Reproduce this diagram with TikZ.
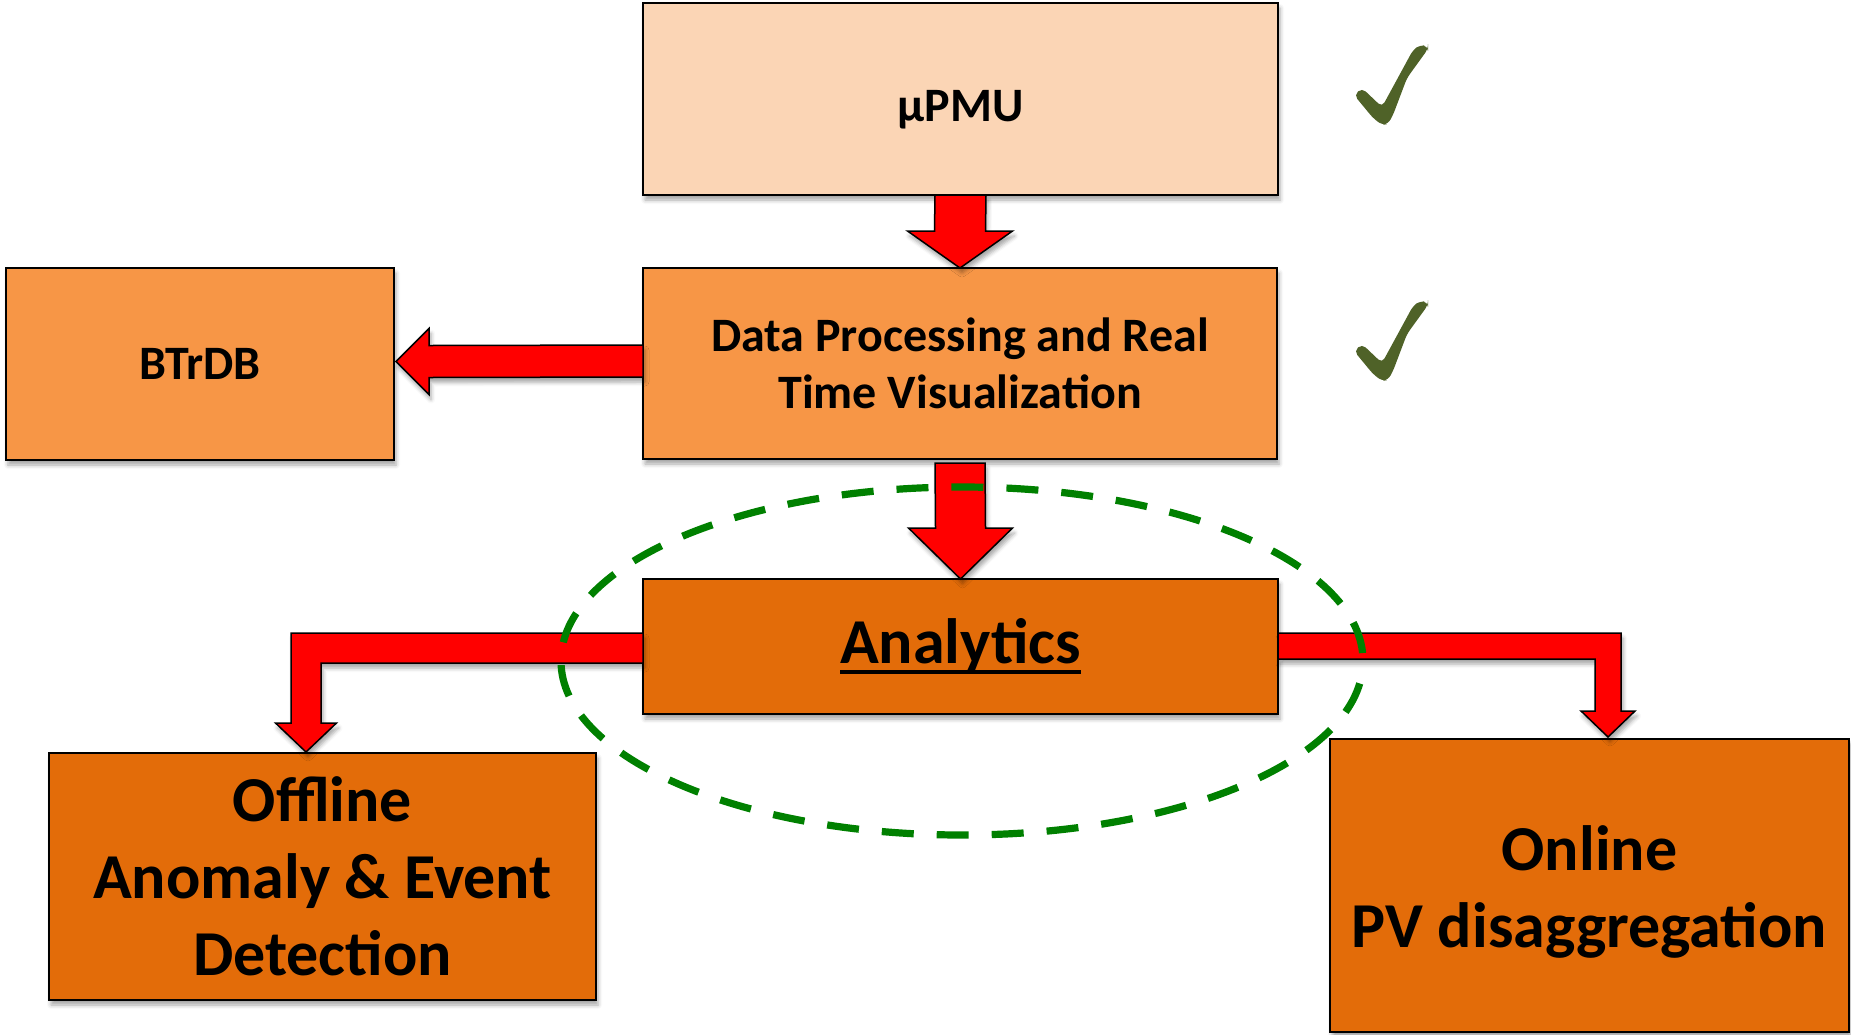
\documentclass[tikz,border=0pt]{standalone}
\usepackage{fontspec}
\setmainfont{Carlito}
\usetikzlibrary{calc,shadows.blur}

\definecolor{peach}{HTML}{FBD5B5}
\definecolor{lightorange}{HTML}{F79646}
\definecolor{darkorange}{HTML}{E36C09}
\definecolor{ringgreen}{HTML}{008000}
\definecolor{tickgreen}{HTML}{4F6228}

% heavy underline that runs through descenders
\newlength\ulwidth
\newcommand{\heavyul}[1]{\settowidth{\ulwidth}{#1}\rlap{\rule[-0.17em]{\ulwidth}{0.065em}}#1}

\tikzset{
  tickmark/.pic={
    \fill[tickgreen, rounded corners=2.5pt]
      (-31,-30) -- (-23,-37) -- (-3,-18) -- (28,-75) -- (35,-80) -- (43,-79)
      -- (43,-76) -- (22,-47) -- (8,-10) -- (3,-1) -- (-3,0) -- (-12,-7) -- cycle;
  }
}

\begin{document}
\begin{tikzpicture}[x=0.5pt,y=-0.5pt,
  softshadow/.style={blur shadow={shadow xshift=1pt, shadow yshift=-2.5pt,
      shadow blur radius=2pt, shadow opacity=35}},
  box/.style={draw=black, line width=1pt, inner sep=0pt, outer sep=0pt,
      align=center, softshadow,
      font=\bfseries\fontsize{24pt}{28.5pt}\selectfont},
  bigtext/.style={font=\bfseries\fontsize{32pt}{38.5pt}\selectfont},
  blockarrow/.style={fill=red, draw=black, line width=0.75pt,
      line join=miter, softshadow},
  ring/.style={draw=ringgreen, line width=3.6pt,
      dash pattern=on 16pt off 11.5pt, dash phase=23.5pt}]

\useasboundingbox (0,0) rectangle (1851,1034);

% boxes
\node[box, fill=peach, minimum width=317.5pt, minimum height=96pt,
      text height=22.7pt, text depth=0pt]
  (pmu) at (960.5,99) {μPMU};
\node[box, fill=lightorange, minimum width=317pt, minimum height=95.5pt]
  (dp) at (960,363.5) {Data Processing and Real\\Time Visualization};
\node[box, fill=lightorange, minimum width=194pt, minimum height=96pt]
  (btr) at (200,364) {BTrDB};
\node[box, bigtext, fill=darkorange, minimum width=317.5pt, minimum height=67.5pt]
  (ana) at (960.5,646.5) {\heavyul{Analytics}};
\node[box, bigtext, fill=darkorange, minimum width=273.5pt, minimum height=123.5pt]
  (off) at (322.5,876.5) {Offline\\Anomaly \& Event\\Detection};
\node[box, bigtext, fill=darkorange, minimum width=259.5pt, minimum height=146.5pt]
  (onl) at (1589.5,885.5) {\rule{0pt}{0.89em}Online\\PV disaggregation};

% block arrows
\draw[blockarrow] ($(pmu.south)+(-25.5,0)$) -- ($(dp.north)+(-25.5,-37)$)
  -- ($(dp.north)+(-52.5,-37)$) -- (dp.north) -- ($(dp.north)+(52.5,-37)$)
  -- ($(dp.north)+(25.5,-37)$) -- ($(pmu.south)+(25.5,0)$) -- cycle;

\draw[blockarrow] ($(dp.south)+(-25,4)$) -- ($(ana.north)+(-25,-51)$)
  -- ($(ana.north)+(-52,-51)$) -- (ana.north) -- ($(ana.north)+(52,-51)$)
  -- ($(ana.north)+(25,-51)$) -- ($(dp.south)+(25,4)$) -- cycle;

\draw[blockarrow] ($(dp.west)+(0,-18.5)$) -- ($(btr.east)+(35,-18.5)$)
  -- ($(btr.east)+(35,-35.5)$) -- ($(btr.east)+(2,-2.5)$)
  -- ($(btr.east)+(35,30.5)$) -- ($(btr.east)+(35,13.5)$)
  -- ($(dp.west)+(0,13.5)$) -- cycle;

\coordinate (ltip) at ($(off.north)+(-16.5,-1)$);
\draw[blockarrow] ($(ana.west)+(0,-13.5)$) -- ($(ltip |- ana.west)+(-15,-13.5)$)
  -- ($(ltip)+(-15,-29)$) -- ($(ltip)+(-30.5,-29)$) -- (ltip)
  -- ($(ltip)+(30.5,-29)$) -- ($(ltip)+(15,-29)$)
  -- ($(ltip |- ana.west)+(15,16.5)$) -- ($(ana.west)+(0,16.5)$) -- cycle;

\coordinate (rtip) at ($(onl.north)+(18.5,-2)$);
\draw[blockarrow] ($(ana.east)+(0,-13.5)$) -- ($(rtip |- ana.east)+(13,-13.5)$)
  -- ($(rtip)+(13,-26)$) -- ($(rtip)+(27,-26)$) -- (rtip)
  -- ($(rtip)+(-27,-26)$) -- ($(rtip)+(-13,-26)$)
  -- ($(rtip |- ana.east)+(-13,12.5)$) -- ($(ana.east)+(0,12.5)$) -- cycle;

% dashed ring around the analytics stage
\draw[ring] ($(ana.center)+(1.5,14.5)$) ellipse [x radius=200.5pt, y radius=87pt];

% completed-stage ticks
\pic at (1385,125) {tickmark};
\pic at (1385,381) {tickmark};

\end{tikzpicture}
\end{document}
